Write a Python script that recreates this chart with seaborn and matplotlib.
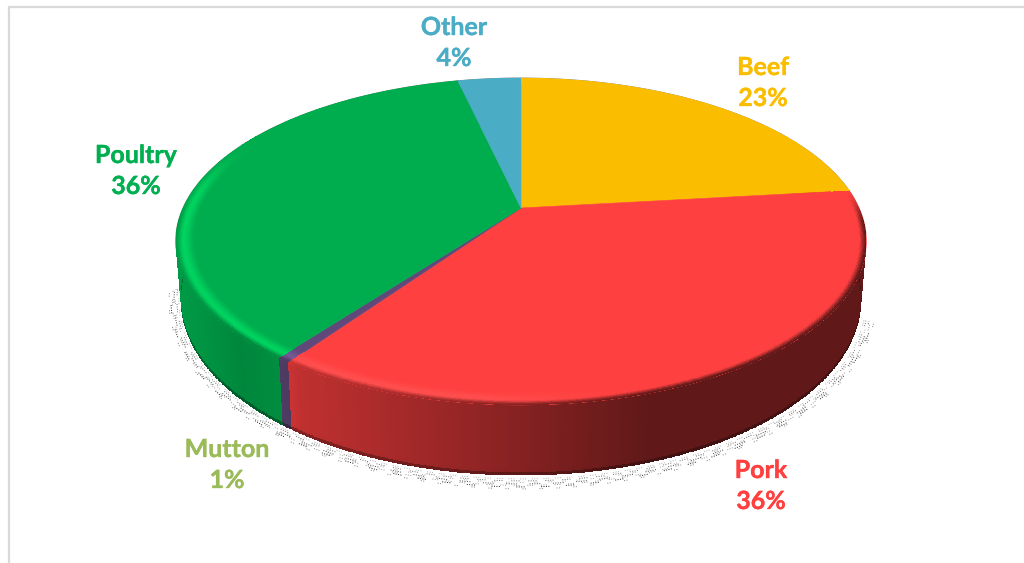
import numpy as np
import matplotlib
matplotlib.use("Agg")
import matplotlib.pyplot as plt
import matplotlib.patheffects as pe
from matplotlib.transforms import Transform
import seaborn as sns

# Meat consumption shares
categories = ["Beef", "Pork", "Mutton", "Poultry", "Other"]
shares = [23.2, 36.49, 0.55, 36.16, 3.6]
wedge_hex = ["#FBBD00", "#FF4040", "#60497A", "#00AD4E", "#4BACC6"]
label_hex = ["#FBBD00", "#FF4040", "#9BBB59", "#00B050", "#4BACC6"]

# Layout in pixel units
label_xy = [(763, 83), (761, 486), (227, 465), (136, 171), (454, 43)]
CX, CY, AX_R, BY_R, TILT = 521.0, 208.0, 338.0, 156.6, 0.205
DEPTH, BASE_SCALE = 56.0, 0.985

sns.set_theme(style="white")
plt.rcParams["font.family"] = ["Lato", "DejaVu Sans"]
palette = sns.color_palette(wedge_hex)


class DiskProjection(Transform):
    """Perspective view of the unit disk lying on a tilted plane."""
    input_dims = output_dims = 2
    has_inverse = False
    is_separable = False

    def transform_non_affine(self, values):
        values = np.asarray(values, dtype=float)
        w = 1 + TILT * values[:, 1]
        return np.column_stack([CX + AX_R * values[:, 0] / w,
                                CY - BY_R * values[:, 1] / w])


def disk_point(r, theta):
    """Pixel position of radius r at clockwise angle theta from the top."""
    x, u = r * np.sin(theta), r * np.cos(theta)
    w = 1 + TILT * u
    return CX + AX_R * x / w, CY - BY_R * u / w


def base_point(theta):
    x, y = disk_point(1.0, theta)
    u = np.cos(theta)
    return CX + (x - CX) * BASE_SCALE, y + DEPTH / (1 + TILT * u)


def smoothstep(a, b, v):
    t = np.clip((v - a) / (b - a), 0, 1)
    return t * t * (3 - 2 * t)


fig = plt.figure(figsize=(10.24, 5.63), dpi=100)
ax = fig.add_axes([0, 0, 1, 1])

wedges, _ = ax.pie(shares, startangle=90, counterclock=False, colors=palette,
                   wedgeprops={"linewidth": 0.4, "zorder": 4})
ax.set_aspect("auto")
ax.set_xlim(0, 1024)
ax.set_ylim(563, 0)
ax.set_axis_off()

projection = DiskProjection()
for w, col in zip(wedges, palette):
    w.set_edgecolor(col)
    w.set_transform(projection + ax.transData)
    w.set_clip_on(False)

# Colour lookup along the rim
edges = np.cumsum(shares) / np.sum(shares) * 2 * np.pi
base_rgb = np.array(palette)
theta = np.linspace(0, 2 * np.pi, 1441)
mid = 0.5 * (theta[:-1] + theta[1:])
rim_rgb = base_rgb[np.clip(np.searchsorted(edges, mid), 0, len(shares) - 1)]
mid_x, _ = disk_point(1.0, mid)
side_mult = np.interp(mid_x, [175, 240, 280, 300, 450, 650, 866],
                      [.90, .78, .82, .75, .60, .38, .38])
side_rgb = rim_rgb * side_mult[:, None]

# Side wall of the disk
rows = np.linspace(0, 1, 25)
tx, ty = disk_point(1.0, theta)
bx, by = base_point(theta)
wall_x = np.outer(1 - rows, tx) + np.outer(rows, bx)
wall_y = np.outer(1 - rows, ty) + np.outer(rows, by)
row_mid = 0.5 * (rows[:-1] + rows[1:])
fringe = 1 - 0.40 * smoothstep(0.93, 1.0, row_mid)
wall_rgb = side_rgb[None, :, :] * fringe[:, None, None]
ax.pcolormesh(wall_x, wall_y, wall_rgb, shading="flat", zorder=2,
              antialiased=False, linewidth=0)

# Soft bevel where the top face meets the wall
radii = np.linspace(0.945, 1.0, 25)
px = np.array([disk_point(r, theta)[0] for r in radii])
py = np.array([disk_point(r, theta)[1] for r in radii])
frac = 0.5 * (radii[:-1] + radii[1:])
frac = (frac - radii[0]) / (radii[-1] - radii[0])
mid_u = np.cos(mid)
front = smoothstep(0.12, -0.12, mid_u)
shine = 0.22 * smoothstep(640, 440, mid_x) * smoothstep(0.45, 0.05, mid_u)
shine_rgb = np.clip(rim_rgb * (1 + shine[:, None]), 0, 1)
bevel_rgb = np.zeros((len(frac), len(mid), 3))
for i, f in enumerate(frac):
    up = smoothstep(0.0, 0.6, f)
    down = smoothstep(0.6, 1.0, f)
    crest = rim_rgb + (shine_rgb - rim_rgb) * up
    edge = rim_rgb + (side_rgb - rim_rgb) * front[:, None]
    bevel_rgb[i] = crest + (edge - crest) * down
ax.pcolormesh(px, py, bevel_rgb, shading="flat", zorder=5,
              antialiased=False, linewidth=0)

# Thin outline along the far rim
far = np.linspace(-np.pi * 0.55, np.pi * 0.55, 400)
ax.plot(*disk_point(1.0, far), color="#8a8a8a", lw=0.7, zorder=3,
        solid_capstyle="round")

# Stippled drop shadow under the near rim, drawn as bursts of dots
arc = np.linspace(np.radians(108), np.radians(262), 700)
sx, sy = base_point(arc)
sx_c, sy_c = sx - CX, sy - (CY + 32)
norm = np.hypot(sx_c, sy_c)
ring_offsets = [3.5, 5.5, 7, 8.5, 10, 11.5, 13.5]
ring_colors = ["#b0b0b0", "#707070", "#a8a8a8", "#4a4a4a", "#989898", "#202020", "#808080"]
ring_dashes = [(1, 1.5, 1, 1.5, 1, 6),
               (1, 1.5, 1, 1.5, 1, 1.5, 1, 9),
               (1, 1.5, 1, 11),
               (1, 1.5, 1, 1.5, 1, 1.5, 1, 1.5, 1, 13),
               (1, 1.5, 1, 1.5, 1, 8),
               (1, 1.5, 1, 1.5, 1, 1.5, 1, 17),
               (1, 1.5, 1, 14)]
for k, (d, c, dash) in enumerate(zip(ring_offsets, ring_colors, ring_dashes)):
    ax.plot(sx + sx_c / norm * d + 1.5, sy + sy_c / norm * d, color=c,
            lw=0.7, linestyle=(k * 2.7, dash), zorder=1)

# Category labels, coloured per series
for name, share, (lx, ly), col in zip(categories, shares, label_xy, label_hex):
    ax.text(lx, ly, f"{name}\n{share:.0f}%", color=col, fontsize=18,
            fontweight="bold", ha="center", va="center", linespacing=1.42, zorder=6,
            path_effects=[pe.withStroke(linewidth=0.25, foreground=col)])

# Chart area border: only the top and left edges fall inside the canvas
ax.plot([9, 9, 1024], [563, 6.5, 6.5], color="#D9D9D9", lw=1.6, zorder=0,
        solid_joinstyle="miter")

fig.savefig("out.png", dpi=100, facecolor="white")
